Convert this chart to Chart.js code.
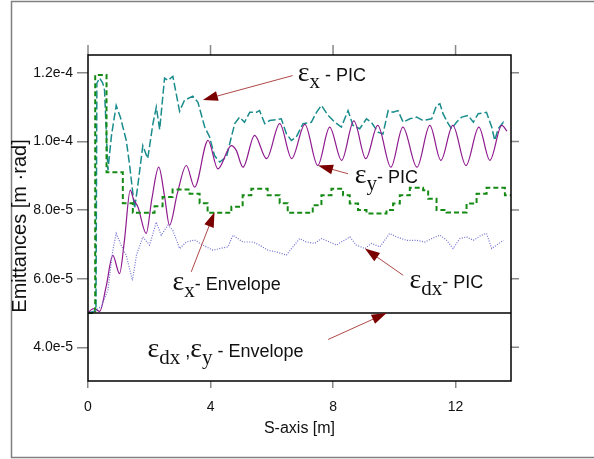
<!DOCTYPE html>
<html>
<head>
<meta charset="utf-8">
<script src="https://cdn.jsdelivr.net/npm/chart.js@4/dist/chart.umd.min.js"></script>
<style>html,body{margin:0;background:#fff}</style>
</head>
<body>
<canvas id="c" width="594" height="459"></canvas>
<script>
// emittance values in units of 1e-5 m·rad, S in m
const xTicks = [0, 4, 8, 12];
const yTicks = [4, 6, 8, 10, 12];

// eps_x - PIC (teal dashed)
const exPicS = [0, 0.21, 0.26, 0.29, 0.38, 0.48, 0.54, 0.65, 0.77, 0.92, 1.06, 1.25, 1.36, 1.52, 1.62, 1.79, 1.95, 2.12, 2.23, 2.34, 2.50, 2.61, 2.77, 2.99, 3.15, 3.42, 3.59, 3.81, 3.97, 4.13, 4.30, 4.52, 4.68, 4.79, 4.95, 5.11, 5.28, 5.50, 5.60, 5.77, 5.93, 6.31, 6.48, 6.64, 6.80, 7.02, 7.29, 7.46, 7.62, 7.84, 8.06, 8.27, 8.49, 8.65, 8.87, 9.09, 9.25, 9.47, 9.63, 9.80, 9.96, 10.12, 10.29, 10.51, 10.73, 10.94, 11.22, 11.38, 11.49, 11.59, 11.76, 11.87, 12.03, 12.20, 12.41, 12.58, 12.74, 13.01, 13.18, 13.28, 13.39, 13.56, 13.61];
const exPic  = [5.0, 5.05, 5.1, 11.7, 11.85, 11.7, 11.5, 9.16, 10.2, 11.05, 10.7, 10.03, 9.3, 8.05, 8.67, 9.88, 9.5, 10.52, 11.0, 10.35, 11.85, 11.78, 11.9, 10.88, 11.2, 11.32, 11.14, 10.42, 10.13, 9.59, 9.4, 9.55, 10.13, 10.52, 10.71, 10.56, 10.85, 10.85, 10.9, 10.52, 10.61, 10.66, 10.22, 10.03, 10.13, 10.52, 10.56, 10.85, 11.05, 10.76, 10.56, 10.42, 10.9, 10.47, 10.37, 10.66, 10.56, 10.27, 10.22, 10.9, 10.85, 10.9, 10.56, 10.66, 10.71, 10.61, 10.66, 11.05, 11.1, 10.81, 10.52, 10.37, 10.56, 10.71, 10.76, 10.56, 10.81, 10.85, 10.42, 10.03, 10.37, 10.56, 10.5];

// eps_y - PIC (purple solid)
const eyPicS = [0, 0.11, 0.21, 0.38, 0.59, 0.81, 1.03, 1.19, 1.38, 1.49, 1.63, 1.90, 2.08, 2.31, 2.50, 2.66, 2.92, 3.21, 3.48, 3.92, 4.24, 4.68, 4.84, 5.06, 5.44, 5.83, 6.26, 6.65, 7.08, 7.50, 7.89, 8.28, 8.68, 9.07, 9.46, 9.89, 10.28, 10.74, 11.16, 11.52, 11.91, 12.34, 12.76, 13.12, 13.51, 13.68];
const eyPic  = [5.0, 5.1, 5.13, 5.05, 5.76, 6.68, 6.15, 7.12, 8.58, 8.3, 8.09, 7.32, 8.3, 9.25, 8.4, 7.56, 8.5, 9.3, 8.67, 10.03, 9.2, 9.88, 9.74, 9.25, 10.18, 9.5, 10.52, 9.5, 10.5, 9.3, 10.42, 9.45, 10.6, 9.5, 10.47, 9.25, 10.42, 9.25, 10.47, 9.45, 10.47, 9.3, 10.42, 9.45, 10.47, 10.3];

// eps_x - Envelope (green stepped)
const exEnvS = [0, 0.235, 0.605, 1.137, 1.464, 2.173, 2.435, 2.761, 3.317, 3.644, 3.905, 4.680, 5.049, 5.333, 5.866, 6.258, 6.520, 7.337, 7.621, 7.948, 8.327, 8.546, 8.817, 9.092, 9.745, 9.961, 10.180, 10.507, 10.941, 11.105, 11.379, 11.706, 12.359, 12.686, 13.013, 13.611, 13.81];
const exEnv  = [5.0, 11.94, 9.1, 8.2, 7.92, 8.11, 8.38, 8.6, 8.48, 8.2, 7.92, 8.1, 8.43, 8.62, 8.43, 8.2, 7.92, 8.14, 8.43, 8.62, 8.43, 8.19, 8.0, 7.9, 8.0, 8.19, 8.43, 8.65, 8.58, 8.33, 8.0, 7.93, 8.19, 8.48, 8.65, 8.43, 8.43];

// eps_dx - PIC (dotted)
const edxPicS = [0, 0.21, 0.44, 0.65, 0.81, 0.92, 1.08, 1.25, 1.45, 1.58, 1.79, 2.01, 2.23, 2.39, 2.61, 2.77, 2.99, 3.21, 3.48, 3.75, 4.08, 4.30, 4.57, 4.73, 5.06, 5.39, 5.60, 5.88, 6.15, 6.48, 6.69, 6.91, 7.13, 7.40, 7.62, 7.89, 8.11, 8.27, 8.55, 8.76, 9.04, 9.25, 9.53, 9.85, 10.07, 10.40, 10.73, 11.00, 11.22, 11.49, 11.71, 11.92, 12.14, 12.36, 12.58, 12.85, 13.01, 13.18, 13.34, 13.56];
const edxPic  = [5.0, 5.05, 5.2, 5.67, 6.83, 7.32, 6.98, 6.68, 5.95, 6.68, 7.22, 6.98, 7.65, 7.27, 7.56, 7.41, 6.88, 7.07, 7.13, 6.98, 6.83, 6.88, 6.93, 7.27, 7.07, 7.07, 6.98, 6.83, 6.78, 6.69, 6.93, 7.17, 7.07, 7.03, 7.17, 7.07, 6.98, 7.07, 7.22, 6.98, 6.88, 7.03, 6.93, 7.32, 7.22, 7.12, 7.12, 7.07, 7.17, 7.27, 7.12, 6.88, 7.17, 7.22, 7.12, 7.27, 7.32, 6.88, 6.98, 7.12];

// eps_dx, eps_y - Envelope (black)
const envS = [0, 13.81];
const env  = [5.0, 5.0];

function pts(xs, ys) {
    return xs.map((x, i) => ({x: x, y: ys[i]}));
}

// text labels with arrows, placed in data coordinates
const notes = [
    {x: 6.85, y: 11.75, parts: [['ε', 'e'], ['x', 's'], [' - PIC', 't']], from: [6.68, 11.92], to: [3.75, 11.21]},
    {x: 8.71, y: 8.78, parts: [['ε', 'e'], ['y', 's'], ['- PIC', 't']], from: [8.49, 9.06], to: [7.51, 9.30]},
    {x: 2.76, y: 5.67, parts: [['ε', 'e'], ['x', 's'], ['- Envelope', 't']], from: [3.37, 6.20], to: [4.13, 7.94]},
    {x: 10.50, y: 5.73, parts: [['ε', 'e'], ['dx', 's'], ['- PIC', 't']], from: [10.29, 6.10], to: [9.04, 6.88]},
    {x: 1.94, y: 3.72, parts: [['ε', 'e'], ['dx', 's'], [' ,', 't'], ['ε', 'e'], ['y', 's'], [' - Envelope', 't']], from: [7.84, 4.23], to: [9.75, 5.0]}
];

const fonts = {
    e: '28px "Liberation Serif"',
    s: '21px "Liberation Serif"',
    t: '18px "Liberation Sans"'
};

const decor = {
    id: 'decor',
    beforeDraw(chart) {
        const ctx = chart.ctx;
        ctx.save();
        ctx.fillStyle = '#fff';
        ctx.fillRect(0, 0, chart.width, chart.height);
        ctx.strokeStyle = '#808080';
        ctx.lineWidth = 1.5;
        ctx.strokeRect(11.5, 1.5, 600, 456);
        ctx.restore();
    },
    afterDraw(chart) {
        const ctx = chart.ctx;
        const a = chart.chartArea;
        const xs = chart.scales.x, ys = chart.scales.y;
        ctx.save();
        // ticks on top and right side
        ctx.strokeStyle = '#888';
        ctx.lineWidth = 1.5;
        ctx.beginPath();
        xTicks.forEach(v => {
            const px = xs.getPixelForValue(v);
            ctx.moveTo(px, a.top);
            ctx.lineTo(px, a.top - 10);
        });
        yTicks.forEach(v => {
            const py = ys.getPixelForValue(v);
            ctx.moveTo(a.right, py);
            ctx.lineTo(a.right + 8, py);
        });
        ctx.stroke();
        // plot frame
        ctx.strokeStyle = '#000';
        ctx.lineWidth = 1.5;
        ctx.strokeRect(a.left, a.top, a.right - a.left, a.bottom - a.top);

        // y title
        ctx.fillStyle = '#111';
        ctx.font = '20px "Liberation Sans"';
        ctx.textAlign = 'center';
        ctx.textBaseline = 'middle';
        ctx.translate(20, 226);
        ctx.rotate(-Math.PI / 2);
        ctx.fillText('Emittances [m ·rad]', 0, 0);
        ctx.setTransform(1, 0, 0, 1, 0, 0);

        // annotations
        ctx.textAlign = 'left';
        ctx.textBaseline = 'alphabetic';
        notes.forEach(n => {
            let px = xs.getPixelForValue(n.x);
            const py = ys.getPixelForValue(n.y);
            n.parts.forEach(([t, k]) => {
                ctx.font = fonts[k];
                ctx.fillText(t, px, k === 's' ? py + 7 : py);
                px += ctx.measureText(t).width;
            });
            const x1 = xs.getPixelForValue(n.from[0]), y1 = ys.getPixelForValue(n.from[1]);
            const x2 = xs.getPixelForValue(n.to[0]), y2 = ys.getPixelForValue(n.to[1]);
            const ang = Math.atan2(y2 - y1, x2 - x1);
            ctx.strokeStyle = '#b04848';
            ctx.lineWidth = 1;
            ctx.beginPath();
            ctx.moveTo(x1, y1);
            ctx.lineTo(x2 - 10 * Math.cos(ang), y2 - 10 * Math.sin(ang));
            ctx.stroke();
            ctx.fillStyle = '#7a0000';
            ctx.beginPath();
            ctx.moveTo(x2, y2);
            ctx.lineTo(x2 - 15 * Math.cos(ang) + 5 * Math.sin(ang), y2 - 15 * Math.sin(ang) - 5 * Math.cos(ang));
            ctx.lineTo(x2 - 15 * Math.cos(ang) - 5 * Math.sin(ang), y2 - 15 * Math.sin(ang) + 5 * Math.cos(ang));
            ctx.closePath();
            ctx.fill();
            ctx.fillStyle = '#111';
        });
        ctx.restore();
    }
};

new Chart(document.getElementById('c'), {
    type: 'line',
    data: {
        datasets: [
            {data: pts(envS, env), borderColor: '#000', borderWidth: 1.5},
            {data: pts(edxPicS, edxPic), borderColor: '#7070d0', borderWidth: 1.2, borderDash: [1, 1.5]},
            {data: pts(exEnvS, exEnv), borderColor: '#148a14', borderWidth: 2, borderDash: [5, 3], stepped: true},
            {data: pts(eyPicS, eyPic), borderColor: '#8e1a8e', borderWidth: 1.2, cubicInterpolationMode: 'monotone'},
            {data: pts(exPicS, exPic), borderColor: '#1a8c8c', borderWidth: 1.5, borderDash: [8, 3]}
        ]
    },
    options: {
        responsive: false,
        animation: false,
        layout: {padding: {left: 0, top: 55, right: 83, bottom: 0}},
        elements: {point: {radius: 0}, line: {tension: 0, fill: false}},
        plugins: {legend: {display: false}, tooltip: {enabled: false}},
        scales: {
            x: {
                type: 'linear',
                min: 0,
                max: 13.81,
                afterFit: s => { s.height = 78; },
                afterBuildTicks: s => { s.ticks = xTicks.map(v => ({value: v})); },
                grid: {drawOnChartArea: false, tickLength: 7, color: '#888', lineWidth: 1.5},
                border: {display: false},
                ticks: {padding: 11, color: '#111', font: {family: 'Liberation Sans', size: 14}},
                title: {display: true, text: 'S-axis [m]', color: '#111', padding: {top: 0, bottom: 21}, font: {family: 'Liberation Sans', size: 16}}
            },
            y: {
                min: 3.02,
                max: 12.52,
                afterFit: s => { s.width = 88; },
                afterBuildTicks: s => { s.ticks = yTicks.map(v => ({value: v})); },
                grid: {drawOnChartArea: false, tickLength: 11, color: '#888', lineWidth: 1.5},
                border: {display: false},
                ticks: {
                    padding: 4,
                    color: '#111',
                    font: {family: 'Liberation Sans', size: 14},
                    callback: v => (v * 1e-5).toExponential(1)
                }
            }
        }
    },
    plugins: [decor]
});
</script>
</body>
</html>
